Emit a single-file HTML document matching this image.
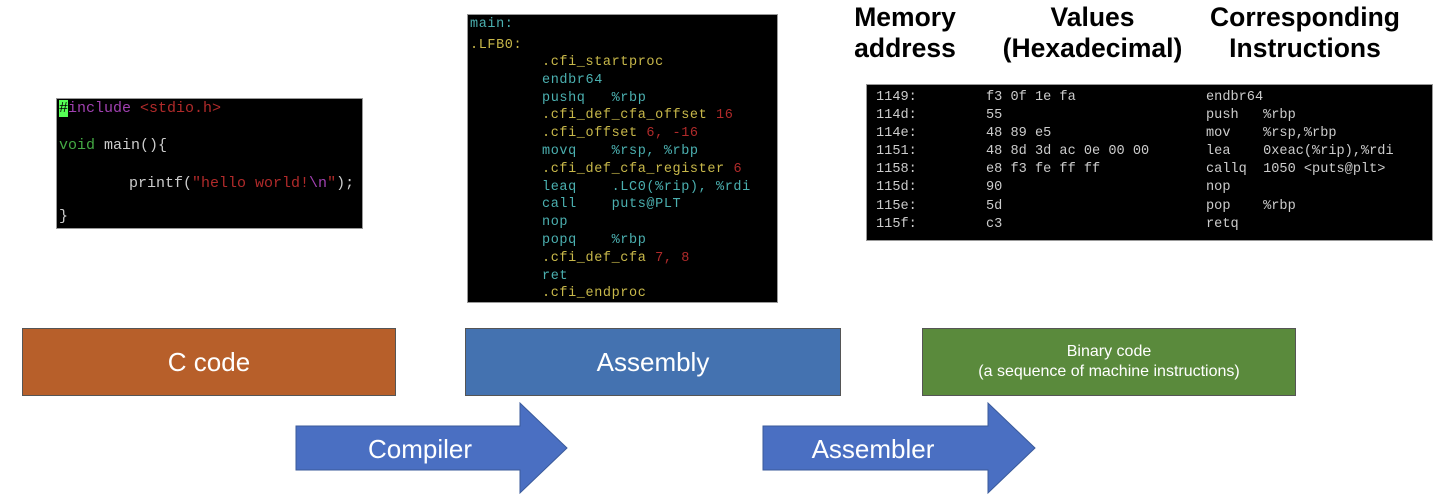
<!DOCTYPE html>
<html><head><meta charset="utf-8"><style>
body{margin:0;width:1440px;height:501px;background:#fff;position:relative;overflow:hidden;font-family:"Liberation Sans",sans-serif}
.p{position:absolute;background:#000;font-family:"Liberation Mono",monospace;font-size:13px;white-space:pre;border:1px solid #999;box-sizing:border-box}
.l{position:absolute;left:2px}
.box{position:absolute;top:328px;height:68px;color:#fff;display:flex;align-items:center;justify-content:center;text-align:center;box-sizing:border-box;border:1px solid #555}
.h{position:absolute;font-weight:bold;font-size:26.5px;text-align:center;line-height:31px;color:#000}
.c{color:#4bb0b0}.y{color:#c8b84a}.r{color:#b02a2a}.g{color:#ccc}
</style></head><body>

<div class="p" style="left:56px;top:98px;width:307px;height:131px;font-size:15px">
<div class="l" style="top:1px"><span style="background:#5f5;color:#000">#</span><span style="color:#a040b0">include</span> <span class="r">&lt;stdio.h&gt;</span></div>
<div class="l" style="top:38px"><span style="color:#4a4">void</span> <span class="g">main(){</span></div>
<div class="l" style="top:76px;left:72px"><span class="g">printf(</span><span class="r">"hello world!</span><span style="color:#a040b0">\n</span><span class="r">"</span><span class="g">);</span></div>
<div class="l" style="top:109px"><span class="g">}</span></div>
</div>

<div class="p" style="left:467px;top:14px;width:311px;height:289px;font-size:13.5px;letter-spacing:0.6px">
<div class="l c" style="top:2px">main:</div>
<div class="l y" style="top:23px">.LFB0:</div>
<div class="l" style="top:39px;left:74px;line-height:17.8px"><span class="y">.cfi_startproc</span>
<span class="c">endbr64</span>
<span class="c">pushq   %rbp</span>
<span class="y">.cfi_def_cfa_offset </span><span class="r">16</span>
<span class="y">.cfi_offset </span><span class="r">6, -16</span>
<span class="c">movq    %rsp, %rbp</span>
<span class="y">.cfi_def_cfa_register </span><span class="r">6</span>
<span class="c">leaq    .LC0(%rip), %rdi</span>
<span class="c">call    puts@PLT</span>
<span class="c">nop</span>
<span class="c">popq    %rbp</span>
<span class="y">.cfi_def_cfa </span><span class="r">7, 8</span>
<span class="c">ret</span>
<span class="y">.cfi_endproc</span></div>
</div>

<div class="h" style="left:835px;top:2px;width:140px">Memory<br>address</div>
<div class="h" style="left:1000px;top:2px;width:185px">Values<br>(Hexadecimal)</div>
<div class="h" style="left:1195px;top:2px;width:220px">Corresponding<br>Instructions</div>

<div class="p" style="left:866px;top:84px;width:567px;height:157px;color:#ccc;font-size:13.6px">
<div class="l" style="top:4px;left:9px;line-height:18.1px">1149:
114d:
114e:
1151:
1158:
115d:
115e:
115f:</div>
<div class="l" style="top:4px;left:119px;line-height:18.1px">f3 0f 1e fa
55
48 89 e5
48 8d 3d ac 0e 00 00
e8 f3 fe ff ff
90
5d
c3</div>
<div class="l" style="top:4px;left:339px;line-height:18.1px">endbr64
push   %rbp
mov    %rsp,%rbp
lea    0xeac(%rip),%rdi
callq  1050 &lt;puts@plt&gt;
nop
pop    %rbp
retq</div>
</div>

<div class="box" style="left:22px;width:374px;background:#b75f2a;font-size:26px">C code</div>
<div class="box" style="left:465px;width:376px;background:#4472b0;font-size:26px">Assembly</div>
<div class="box" style="left:922px;width:374px;background:#5a8a3c;font-size:16px;line-height:20px">Binary code<br>(a sequence of machine instructions)</div>

<svg style="position:absolute;left:0;top:0" width="1440" height="501">
<polygon points="296,426 520,426 520,403 567,448 520,493 520,470 296,470" fill="#4a6fc2" stroke="#3a5a9a" stroke-width="1"/>
<polygon points="763,426 988,426 988,403 1035,448 988,493 988,470 763,470" fill="#4a6fc2" stroke="#3a5a9a" stroke-width="1"/>
<text x="420" y="458" fill="#fff" font-size="26" text-anchor="middle" font-family="Liberation Sans,sans-serif">Compiler</text>
<text x="873" y="458" fill="#fff" font-size="26" text-anchor="middle" font-family="Liberation Sans,sans-serif">Assembler</text>
</svg>
</body></html>
